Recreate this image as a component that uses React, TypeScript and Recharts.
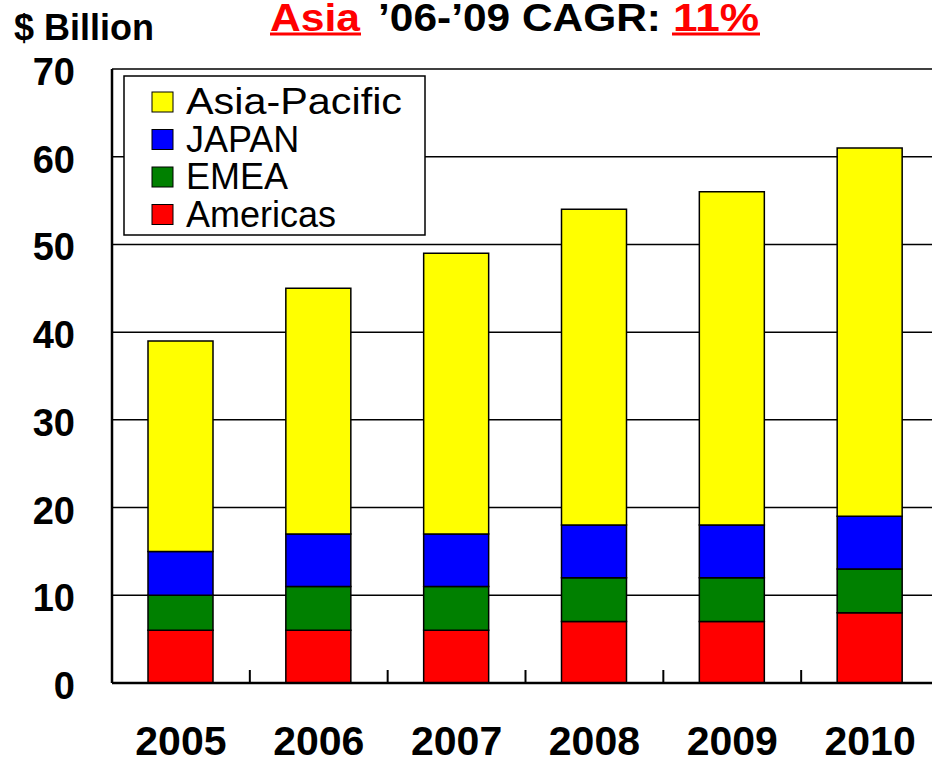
import { BarChart, Bar, XAxis, YAxis, CartesianGrid, Legend } from 'recharts'

const years = ['2005', '2006', '2007', '2008', '2009', '2010']
const americas = [6, 6, 6, 7, 7, 8]
const emea = [4, 5, 5, 5, 5, 5]
const japan = [5, 6, 6, 6, 6, 6]
const asiaPacific = [24, 28, 32, 36, 38, 42]
const yTicks = [0, 10, 20, 30, 40, 50, 60, 70]
const legendOrder = ['Asia-Pacific', 'JAPAN', 'EMEA', 'Americas']

const chartData = years.map((year, i) => ({
  year,
  americas: americas[i],
  emea: emea[i],
  japan: japan[i],
  asiaPacific: asiaPacific[i],
}))

const font = '"Liberation Sans", Arial, sans-serif'

function XTick(props: any) {
  const { x, y, payload } = props
  const half = payload?.offset ?? 69
  return (
    <g>
      <line x1={x + half} x2={x + half} y1={y} y2={y - 13} stroke="#000" strokeWidth={2} />
      <text x={x} y={y + 72} textAnchor="middle" fontFamily={font} fontWeight="bold" fontSize={41} fill="#000">
        {payload.value}
      </text>
    </g>
  )
}

function YTick(props: any) {
  const { x, y, payload } = props
  return (
    <text x={x - 37} y={y + 16} textAnchor="end" fontFamily={font} fontWeight="bold" fontSize={38} fill="#000">
      {payload.value}
    </text>
  )
}

function LegendBox(props: any) {
  const items = [...(props.payload || [])].sort(
    (a: any, b: any) => legendOrder.indexOf(a.value) - legendOrder.indexOf(b.value)
  )
  return (
    <svg width={304} height={162} style={{ display: 'block' }}>
      <rect x={1} y={1} width={301} height={159} fill="#fff" stroke="#000" strokeWidth={1.5} />
      {items.map((item: any, i: number) => (
        <g key={item.value}>
          <rect x={29} y={17 + i * 37.5} width={21} height={20} fill={item.color} stroke="#000" strokeWidth={1} />
          <text
            x={63}
            y={39 + i * 37.5}
            fontFamily={font}
            fontSize={36}
            fill="#000"
            {...(item.value === 'Asia-Pacific' ? { textLength: 216, lengthAdjust: 'spacingAndGlyphs' } : {})}
          >
            {item.value}
          </text>
        </g>
      ))}
    </svg>
  )
}

export default function App() {
  return (
    <div style={{ position: 'absolute', left: 0, top: 0, width: 932, height: 760, overflow: 'hidden', background: '#fff' }}>
      <BarChart width={950} height={760} data={chartData} margin={{ top: 69, right: 11, left: 0, bottom: 0 }} barSize={65}>
        <CartesianGrid vertical={false} stroke="#000" strokeWidth={1.5} />
        <XAxis
          dataKey="year"
          height={77}
          axisLine={{ stroke: '#000', strokeWidth: 2.5 }}
          tickLine={false}
          tickSize={0}
          tickMargin={0}
          tick={<XTick />}
          interval={0}
        />
        <YAxis
          width={112}
          domain={[0, 70]}
          ticks={yTicks}
          axisLine={{ stroke: '#000', strokeWidth: 2.5 }}
          tickLine={false}
          tickSize={0}
          tickMargin={0}
          tick={<YTick />}
          interval={0}
        />
        <Legend
          layout="horizontal"
          verticalAlign="middle"
          align="center"
          content={<LegendBox />}
          wrapperStyle={{ left: 123, top: 75, width: 304, height: 162 }}
        />
        <Bar dataKey="americas" name="Americas" stackId="a" fill="#FF0000" stroke="#000" strokeWidth={1.5} isAnimationActive={false} />
        <Bar dataKey="emea" name="EMEA" stackId="a" fill="#008000" stroke="#000" strokeWidth={1.5} isAnimationActive={false} />
        <Bar dataKey="japan" name="JAPAN" stackId="a" fill="#0000FF" stroke="#000" strokeWidth={1.5} isAnimationActive={false} />
        <Bar dataKey="asiaPacific" name="Asia-Pacific" stackId="a" fill="#FFFF00" stroke="#000" strokeWidth={1.5} isAnimationActive={false} />
      </BarChart>
      <svg width={932} height={60} style={{ position: 'absolute', left: 0, top: 0, pointerEvents: 'none' }}>
        <text x={14} y={40} fontFamily={font} fontWeight="bold" fontSize={36} fill="#000">
          $ Billion
        </text>
        <text x={270} y={31} fontFamily={font} fontWeight="bold" fontSize={39} fill="#FF0000" textLength={90} lengthAdjust="spacingAndGlyphs">
          Asia
        </text>
        <line x1={270} x2={361} y1={34} y2={34} stroke="#FF0000" strokeWidth={3} />
        <text x={378} y={31} fontFamily={font} fontWeight="bold" fontSize={39} fill="#000" textLength={283} lengthAdjust="spacingAndGlyphs">
          ’06-’09 CAGR:
        </text>
        <text x={673} y={31} fontFamily={font} fontWeight="bold" fontSize={39} fill="#FF0000" textLength={86} lengthAdjust="spacingAndGlyphs">
          11%
        </text>
        <line x1={672} x2={760} y1={34} y2={34} stroke="#FF0000" strokeWidth={3} />
      </svg>
    </div>
  )
}
